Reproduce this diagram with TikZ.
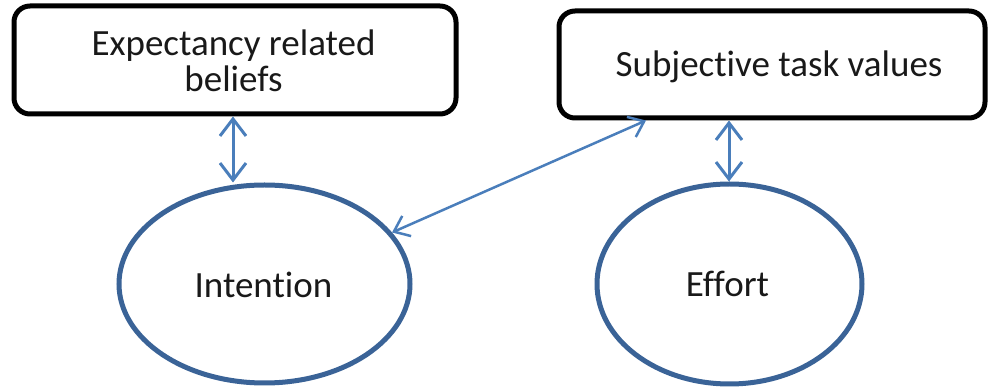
\documentclass[tikz,border=0pt]{standalone}
\usepackage{fontspec}
\setmainfont[Ligatures=NoCommon]{Carlito}
\usetikzlibrary{arrows.meta,shapes.geometric}
\definecolor{ellblue}{HTML}{3A6397}
\definecolor{arrblue}{HTML}{4A7EBB}
\begin{document}
\begin{tikzpicture}[x=1pt,y=-1pt,
  box/.style={draw=black, line width=5pt, rounded corners=16pt, inner sep=0pt},
  oval/.style={ellipse, draw=ellblue, line width=5pt, inner sep=0pt},
  txt/.style={font=\fontsize{37}{36}\selectfont, text=black!90, inner sep=0pt, align=center},
  dbl/.style={draw=arrblue, line width=3pt, {Straight Barb[length=17pt,width=26pt,line width=3pt]}-{Straight Barb[length=17pt,width=26pt,line width=3pt]}},
  diag/.style={draw=arrblue, line width=2.5pt, {Straight Barb[length=14pt,width=22pt,line width=2.5pt]}-{Straight Barb[length=14pt,width=22pt,line width=2.5pt]}}
]
\useasboundingbox (0,0) rectangle (989,387);
\node[box, minimum width=442pt, minimum height=108pt] (b1) at (235,60) {};
\node[box, minimum width=426pt, minimum height=107pt] (b2) at (772,64.5) {};
\node[txt, anchor=base] (t1) at (233.5,92) {Expectancy related\\beliefs};
\node[txt, anchor=base] (t2) at (779,77) {Subjective task values};
\node[oval, minimum width=291pt, minimum height=198pt] (e1) at (264.5,284) {};
\node[oval, minimum width=265pt, minimum height=200pt] (e2) at (729.5,284) {};
\node[txt, anchor=base] (t3) at (263.5,298) {Intention};
\node[txt, anchor=base] (t4) at (727.5,297) {Effort};
\coordinate (x1) at (233,0);
\coordinate (x2) at (729,0);
\coordinate (x3) at (646,0);
\draw[dbl] (b1.south -| x1) -- (e1.north -| x1);
\draw[dbl] (b2.south -| x2) -- (e2.north -| x2);
\draw[diag] (e1.22) -- (b2.south -| x3);
\end{tikzpicture}
\end{document}
